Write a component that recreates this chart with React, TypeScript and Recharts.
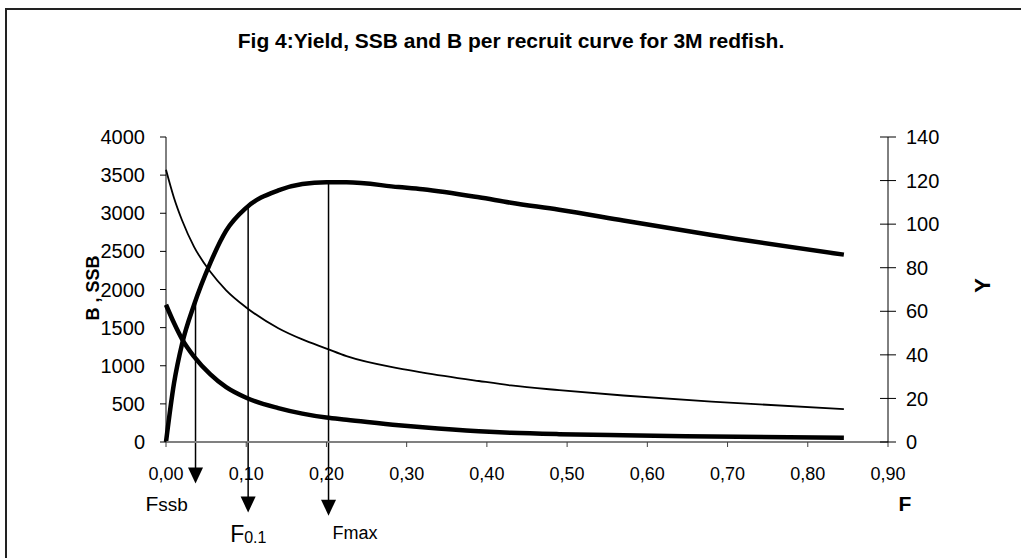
import React from 'react';
import { LineChart, Line, XAxis, YAxis, ReferenceLine } from 'recharts';

// F values (fishing mortality) and per-recruit curves
const fValues = [0, 0.01, 0.02, 0.035, 0.055, 0.075, 0.1, 0.14, 0.17, 0.2, 0.225, 0.29, 0.32, 0.39, 0.43, 0.49, 0.57, 0.68, 0.845];
const yieldValues = [0, 27, 45, 63, 82, 97, 107.5, 115.5, 118.4, 119.2, 119.2, 117, 116, 112.3, 109.8, 106.6, 101.7, 95, 86];
const biomassValues = [3570, 3200, 2908, 2560, 2235, 1990, 1765, 1492, 1345, 1225, 1125, 965, 910, 800, 742, 680, 610, 530, 430];
const ssbValues = [1800, 1560, 1350, 1120, 890, 719, 580, 445, 372, 320, 293, 220, 192, 140, 121, 103, 88, 73, 55];

const xTicks = [0, 0.1, 0.2, 0.3, 0.4, 0.5, 0.6, 0.7, 0.8, 0.9];
const leftTicks = [0, 500, 1000, 1500, 2000, 2500, 3000, 3500, 4000];
const rightTicks = [0, 20, 40, 60, 80, 100, 120, 140];

// reference points: F, yield at F, arrow tip (in Y units)
const markers = [
  { name: 'Fssb', f: 0.0368, y: 64, tip: -19 },
  { name: 'F0.1', f: 0.1024, y: 108.5, tip: -32.4 },
  { name: 'Fmax', f: 0.2026, y: 119.2, tip: -33.8 },
];

const data = fValues.map((f, i) => ({
  F: f,
  Y: yieldValues[i],
  B: biomassValues[i],
  SSB: ssbValues[i],
}));

const FONT = '"Liberation Sans", Arial, sans-serif';

const RightTick = (props: any) => {
  const { x, y, payload } = props;
  const ax = x - 18;
  return (
    <g>
      <line x1={ax - 8} x2={ax + 8} y1={y} y2={y} stroke="#000" />
      <text x={x} y={y} dy="0.355em" textAnchor="start" fontSize={20} fill="#000" fontFamily={FONT}>
        {payload.value}
      </text>
    </g>
  );
};

const markerLabel = (name: string, x: number, y: number) => {
  if (name === 'Fssb') {
    return (
      <text x={x - 50} y={y + 28} fontSize={21} fontFamily={FONT} fill="#000">
        F<tspan fontSize={19}>ssb</tspan>
      </text>
    );
  }
  if (name === 'F0.1') {
    return (
      <text x={x - 18} y={y + 29} fontSize={23} fontFamily={FONT} fill="#000">
        F<tspan fontSize={16} dy={1}>0.1</tspan>
      </text>
    );
  }
  return (
    <text x={x + 4} y={y + 23.5} fontSize={18} fontFamily={FONT} fill="#000">
      Fmax
    </text>
  );
};

const arrowShape = (name: string) => (p: any) => {
  const { x1, y1, x2, y2 } = p;
  return (
    <g>
      <line x1={x1} y1={y1} x2={x2} y2={y2 - 14} stroke="#000" strokeWidth={1.5} />
      <polygon points={`${x2 - 7.5},${y2 - 16} ${x2 + 7.5},${y2 - 16} ${x2},${y2}`} fill="#000" />
      {markerLabel(name, x2, y2)}
    </g>
  );
};

export default function App() {
  return (
    <div style={{ position: 'absolute', left: 0, top: 0, width: 1021, height: 558, background: '#fff' }}>
      <div
        style={{
          position: 'absolute',
          left: 5,
          top: 8,
          width: 1016,
          height: 550,
          borderLeft: '2px solid #222',
          borderTop: '2px solid #222',
          boxSizing: 'border-box',
        }}
      />
      <div style={{ position: 'absolute', left: 0, top: 0 }}>
        <LineChart
          width={1021}
          height={558}
          data={data}
          margin={{ top: 137, right: 53, left: 86, bottom: 56 }}
          style={{ fontFamily: FONT }}
        >
          <XAxis
            dataKey="F"
            type="number"
            domain={[0, 0.9]}
            ticks={xTicks}
            tickFormatter={(v: number) => v.toFixed(2).replace('.', ',')}
            axisLine={{ stroke: '#808080', strokeWidth: 2 }}
            tickLine={{ stroke: '#404040' }}
            tickSize={5}
            tickMargin={20}
            height={60}
            tick={{ fill: '#000', fontSize: 18 }}
          />
          <YAxis
            yAxisId="left"
            domain={[0, 4000]}
            ticks={leftTicks}
            width={80}
            stroke="#000"
            tickSize={6}
            tickMargin={15}
            tick={{ fill: '#000', fontSize: 20 }}
          />
          <YAxis
            yAxisId="right"
            orientation="right"
            domain={[0, 140]}
            ticks={rightTicks}
            width={80}
            stroke="#000"
            tickSize={8}
            tickMargin={10}
            tickLine={false}
            tick={<RightTick />}
          />
          <Line yAxisId="left" dataKey="B" type="monotone" stroke="#000" strokeWidth={1.8} dot={false} isAnimationActive={false} />
          <Line yAxisId="left" dataKey="SSB" type="monotone" stroke="#000" strokeWidth={4.5} dot={false} isAnimationActive={false} />
          <Line yAxisId="right" dataKey="Y" type="monotone" stroke="#000" strokeWidth={4.5} dot={false} isAnimationActive={false} />
          {markers.map((m) => (
            <ReferenceLine
              key={m.name}
              yAxisId="right"
              ifOverflow="visible"
              segment={[
                { x: m.f, y: m.y },
                { x: m.f, y: m.tip },
              ]}
              shape={arrowShape(m.name)}
            />
          ))}
          <text x={511} y={48} textAnchor="middle" fontSize={21} fontWeight="bold" fontFamily={FONT} fill="#000">
            Fig 4:Yield, SSB and B per recruit curve for 3M redfish.
          </text>
          <text
            x={93}
            y={288}
            textAnchor="middle"
            dominantBaseline="central"
            fontSize={18}
            fontWeight="bold"
            fontFamily={FONT}
            fill="#000"
            transform="rotate(-90 93 288)"
          >
            B , SSB
          </text>
          <text
            x={982}
            y={285.5}
            textAnchor="middle"
            dominantBaseline="central"
            fontSize={22}
            fontWeight="bold"
            fontFamily={FONT}
            fill="#000"
            transform="rotate(-90 982 285.5)"
          >
            Y
          </text>
          <text x={905} y={511} textAnchor="middle" fontSize={21} fontWeight="bold" fontFamily={FONT} fill="#000">
            F
          </text>
        </LineChart>
      </div>
    </div>
  );
}
